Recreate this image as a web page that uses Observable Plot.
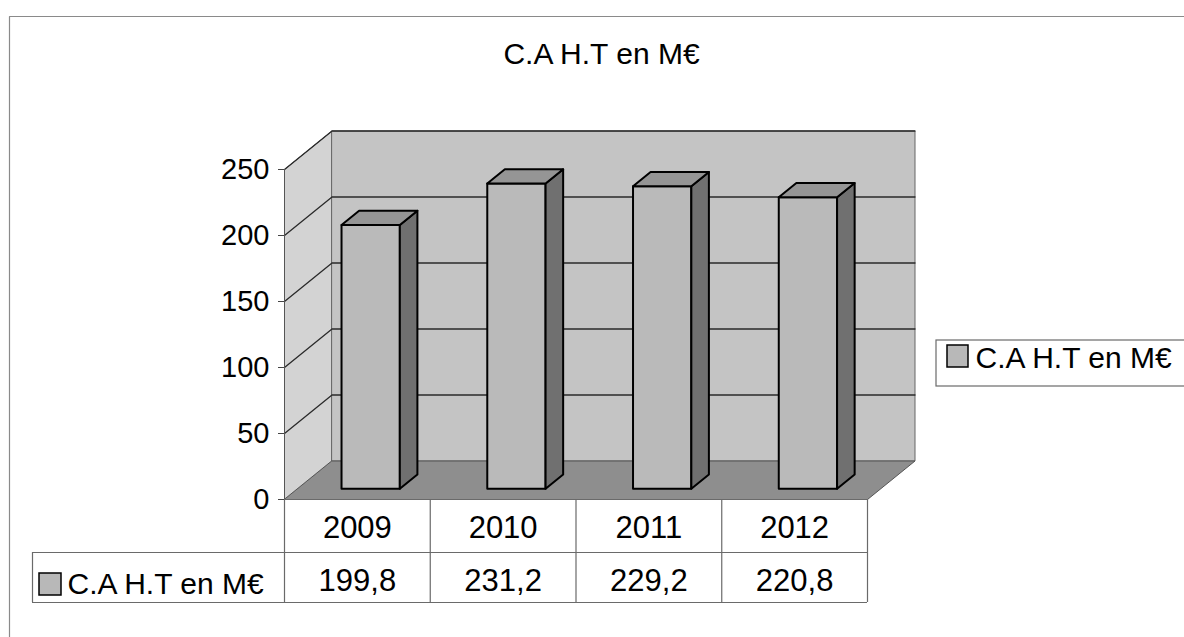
<!DOCTYPE html>
<html>
<head>
<meta charset="utf-8">
<script src="https://cdn.jsdelivr.net/npm/d3@7"></script>
<script src="https://cdn.jsdelivr.net/npm/@observablehq/plot@0.6"></script>
<style>
  html, body { margin: 0; padding: 0; background: #fff; }
  #chart { width: 1184px; height: 637px; }
</style>
</head>
<body>
<div id="chart"></div>
<script>
// ---- data ----
const title = "C.A H.T en M€";
const seriesName = "C.A H.T en M€";
const years = ["2009", "2010", "2011", "2012"];
const values = [199.8, 231.2, 229.2, 220.8];
const valueLabels = ["199,8", "231,2", "229,2", "220,8"];
const yTicks = [0, 50, 100, 150, 200, 250];

// ---- layout ----
const W = 1184, H = 637;
const X0 = 284, X1 = 867, Y0 = 499, Y1 = 169;
const yMax = 250;
const n = years.length;
const ux = px => (px - X0) / (X1 - X0) * n;
const uy = py => (Y0 - py) / (Y0 - Y1) * yMax;
// depth projection (data units per full depth)
const DX = 47.5 / (X1 - X0) * n;
const DY = 38.5 / (Y0 - Y1) * yMax;
const P = (i, v, d) => ({x: i + d * DX, y: v + d * DY});
const face = (id, pts) => pts.map(([i, v, d]) => ({id, ...P(i, v, d)}));

// walls & floor
const sideWall = face("side", [[0,0,0],[0,yMax,0],[0,yMax,1],[0,0,1]]);
const backWall = face("back", [[0,0,1],[n,0,1],[n,yMax,1],[0,yMax,1]]);
const floor = face("floor", [[0,0,0],[n,0,0],[n,0,1],[0,0,1]]);
const grid = yTicks.filter(t => t > 0).flatMap(t => face("g" + t, [[0,t,0],[0,t,1],[n,t,1]]));

// bars
const bw = 0.4, f0 = 0.28, f1 = 0.65;
const fronts = [], sides = [], tops = [];
values.forEach((v, i) => {
  const a = i + 0.5 - bw / 2, b = i + 0.5 + bw / 2;
  fronts.push(...face("f" + i, [[a,0,f0],[b,0,f0],[b,v,f0],[a,v,f0]]));
  sides.push(...face("s" + i, [[b,0,f0],[b,0,f1],[b,v,f1],[b,v,f0]]));
  tops.push(...face("t" + i, [[a,v,f0],[b,v,f0],[b,v,f1],[a,v,f1]]));
});

// table
const tRow1 = uy(552), tRow2 = uy(602), legL = ux(32);
const tableH = [
  {x1: 0, x2: n, y: 0},
  {x1: legL, x2: n, y: tRow1},
  {x1: legL, x2: n, y: tRow2}
];
const tableV = d3.range(n + 1).map(k => ({x: k, y1: 0, y2: tRow2}));
tableV.push({x: legL, y1: tRow1, y2: tRow2});

const cats = years.map((y, i) => ({i: i + 0.5, year: y, label: valueLabels[i]}));
const font = "Liberation Sans, Arial, Helvetica, sans-serif";
const FS = 30, TFS = 31;

const frameLine = [
  {x: ux(9), y: uy(H + 5)}, {x: ux(9), y: uy(16)}, {x: ux(W + 5), y: uy(16)}
];

const plot = Plot.plot({
  width: W, height: H,
  marginLeft: X0, marginRight: W - X1, marginTop: Y1, marginBottom: H - Y0,
  x: {type: "linear", domain: [0, n], axis: null},
  y: {type: "linear", domain: [0, yMax], axis: null},
  style: {fontFamily: font, background: "white", overflow: "visible", color: "black"},
  marks: [
    // outer chart-area border
    Plot.line(frameLine, {x: "x", y: "y", stroke: "#8a8a8a", strokeWidth: 1.2}),
    // walls
    Plot.line(sideWall, {x: "x", y: "y", z: "id", fill: "#d3d3d3", stroke: "#666", strokeWidth: 1, curve: "linear-closed"}),
    Plot.line(backWall, {x: "x", y: "y", z: "id", fill: "#c4c4c4", stroke: "#666", strokeWidth: 1, curve: "linear-closed"}),
    Plot.line(floor, {x: "x", y: "y", z: "id", fill: "#8e8e8e", stroke: "#555", strokeWidth: 1, curve: "linear-closed"}),
    Plot.line(grid, {x: "x", y: "y", z: "id", stroke: "#2a2a2a", strokeWidth: 1.3}),
    // bars
    Plot.line(fronts, {x: "x", y: "y", z: "id", fill: "#bababa", stroke: "#000", strokeWidth: 2, strokeLinejoin: "round", curve: "linear-closed"}),
    Plot.line(sides, {x: "x", y: "y", z: "id", fill: "#707070", stroke: "#000", strokeWidth: 2, strokeLinejoin: "round", curve: "linear-closed"}),
    Plot.line(tops, {x: "x", y: "y", z: "id", fill: "#959595", stroke: "#000", strokeWidth: 2, strokeLinejoin: "round", curve: "linear-closed"}),
    // data table
    Plot.rect([0], {x1: () => 0, x2: () => n, y1: () => tRow2, y2: () => 0, fill: "white"}),
    Plot.rect([0], {x1: () => legL, x2: () => 0, y1: () => tRow2, y2: () => tRow1, fill: "white"}),
    Plot.ruleY(tableH, {x1: "x1", x2: "x2", y: "y", stroke: "#6a6a6a", strokeWidth: 1.2}),
    Plot.ruleX(tableV, {x: "x", y1: "y1", y2: "y2", stroke: "#6a6a6a", strokeWidth: 1.2}),
    Plot.text(cats, {x: "i", y: () => uy(537 - 0.32 * TFS), text: "year", fontSize: TFS, fill: "black", lineAnchor: "middle"}),
    Plot.text(cats, {x: "i", y: () => uy(590 - 0.32 * TFS), text: "label", fontSize: TFS, fill: "black", lineAnchor: "middle"}),
    Plot.rect([0], {x1: () => ux(39), x2: () => ux(61), y1: () => uy(595), y2: () => uy(573), fill: "#b8b8b8", stroke: "#000", strokeWidth: 1.5}),
    Plot.text([seriesName], {x: () => ux(67), y: () => uy(593 - 0.32 * FS), text: d => d, fontSize: FS, fill: "black", textAnchor: "start", lineAnchor: "middle"}),
    // y axis
    Plot.axisY({ticks: yTicks, tickSize: 6, tickPadding: 9, fontSize: 29, stroke: "#444", tickFormat: d => String(d)}),
    Plot.ruleX([0], {y1: 0, y2: yMax, stroke: "#555", strokeWidth: 1}),
    // right legend
    Plot.rect([0], {x1: () => ux(936), x2: () => ux(W + 10), y1: () => uy(386), y2: () => uy(340), fill: "white", stroke: "#6a6a6a", strokeWidth: 1.2}),
    Plot.rect([0], {x1: () => ux(947), x2: () => ux(968), y1: () => uy(367), y2: () => uy(345), fill: "#b8b8b8", stroke: "#000", strokeWidth: 1.5}),
    Plot.text([seriesName], {x: () => ux(975), y: () => uy(367 - 0.32 * FS), text: d => d, fontSize: FS, fill: "black", textAnchor: "start", lineAnchor: "middle"}),
    // title
    Plot.text([title], {x: () => ux(601), y: () => uy(63 - 0.32 * FS), text: d => d, fontSize: FS, fill: "black", lineAnchor: "middle"})
  ]
});
document.getElementById("chart").appendChild(plot);
</script>
</body>
</html>
